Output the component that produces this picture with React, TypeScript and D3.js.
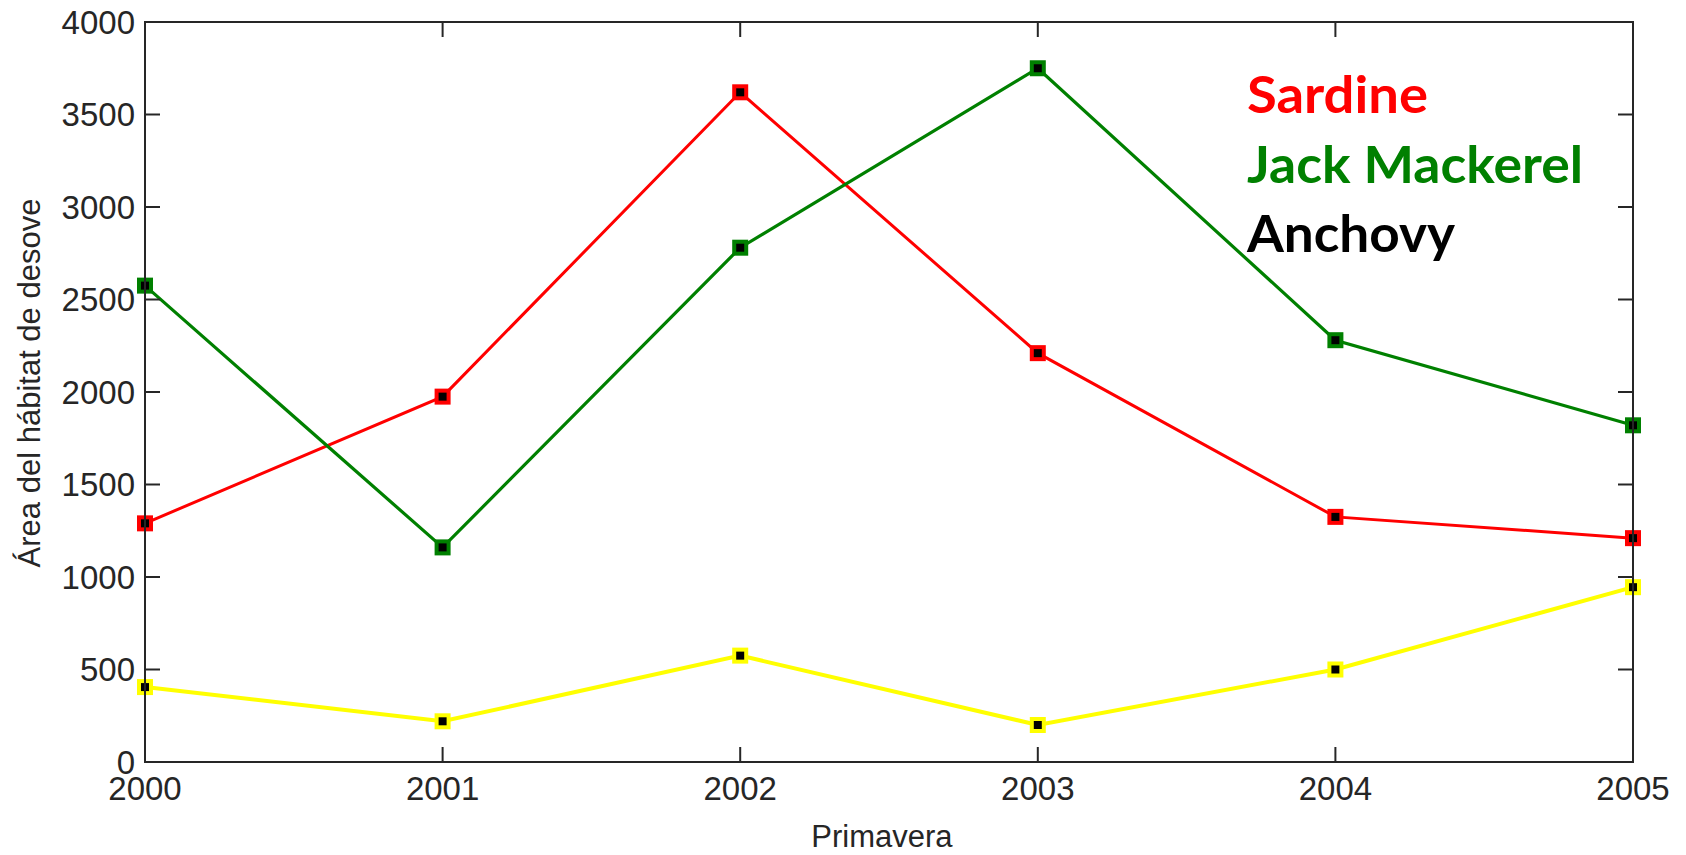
import React from "react";
import * as d3 from "d3";

const years = [2000, 2001, 2002, 2003, 2004, 2005];
const sardine = [1290, 1975, 3620, 2210, 1325, 1210];
const jackMackerel = [2575, 1160, 2780, 3750, 2280, 1820];
const anchovy = [405, 220, 575, 200, 500, 945];
const yTicks = [0, 500, 1000, 1500, 2000, 2500, 3000, 3500, 4000];
const legendLabels = ["Sardine", "Jack Mackerel", "Anchovy"];
const legendColors = ["#ff0000", "#008000", "#000000"];

const W = 1686;
const H = 855;
const left = 145;
const right = 1633;
const top = 22;
const bottom = 762;

export default function App() {
  const x = d3.scaleLinear().domain([2000, 2005]).range([left, right]);
  const y = d3.scaleLinear().domain([0, 4000]).range([bottom, top]);
  const line = d3
    .line<number>()
    .x((_, i) => x(years[i]))
    .y((d) => y(d));

  const series = [
    { values: anchovy, color: "#ffff00", width: 4 },
    { values: sardine, color: "#ff0000", width: 3 },
    { values: jackMackerel, color: "#008000", width: 3.2 },
  ];
  const axisColor = "#262626";
  const font = "'Liberation Sans', Arial, sans-serif";
  const legendWidths = [181, 336, 208];

  return (
    <svg
      width={W}
      height={H}
      style={{ position: "absolute", left: 0, top: 0, background: "#fff" }}
    >
      {series.map((s, si) => (
        <g key={si}>
          <path d={line(s.values) || ""} fill="none" stroke={s.color} strokeWidth={s.width} />
          {s.values.map((v, i) => (
            <rect
              key={i}
              x={x(years[i]) - 6}
              y={y(v) - 6}
              width={12}
              height={12}
              fill="#000"
              stroke={s.color}
              strokeWidth={4}
            />
          ))}
        </g>
      ))}
      <rect x={left} y={top} width={right - left} height={bottom - top} fill="none" stroke={axisColor} strokeWidth={2} />
      {yTicks.map((t) => (
        <g key={t}>
          <line x1={left} x2={left + 15} y1={y(t)} y2={y(t)} stroke={axisColor} strokeWidth={2} />
          <line x1={right} x2={right - 15} y1={y(t)} y2={y(t)} stroke={axisColor} strokeWidth={2} />
          <text x={135} y={y(t)} dy="0.36em" textAnchor="end" fontFamily={font} fontSize={33} fill={axisColor}>
            {t}
          </text>
        </g>
      ))}
      {years.map((yr) => (
        <g key={yr}>
          <line x1={x(yr)} x2={x(yr)} y1={bottom} y2={bottom - 15} stroke={axisColor} strokeWidth={2} />
          <line x1={x(yr)} x2={x(yr)} y1={top} y2={top + 15} stroke={axisColor} strokeWidth={2} />
          <text x={x(yr)} y={800} textAnchor="middle" fontFamily={font} fontSize={33} fill={axisColor}>
            {yr}
          </text>
        </g>
      ))}
      <text x={882} y={847} textAnchor="middle" fontFamily={font} fontSize={31} fill={axisColor}>
        Primavera
      </text>
      <text
        transform={`translate(40, 383) rotate(-90)`}
        textAnchor="middle"
        fontFamily={font}
        fontSize={31}
        fill={axisColor}
      >
        Área del hábitat de desove
      </text>
      {legendLabels.map((l, i) => (
        <text
          key={l}
          x={1247}
          y={113 + i * 69.5}
          fontFamily="Lato, 'Open Sans', sans-serif"
          fontWeight="bold"
          fontSize={52}
          fill={legendColors[i]}
          textLength={legendWidths[i]}
          lengthAdjust="spacingAndGlyphs"
        >
          {l}
        </text>
      ))}
    </svg>
  );
}
